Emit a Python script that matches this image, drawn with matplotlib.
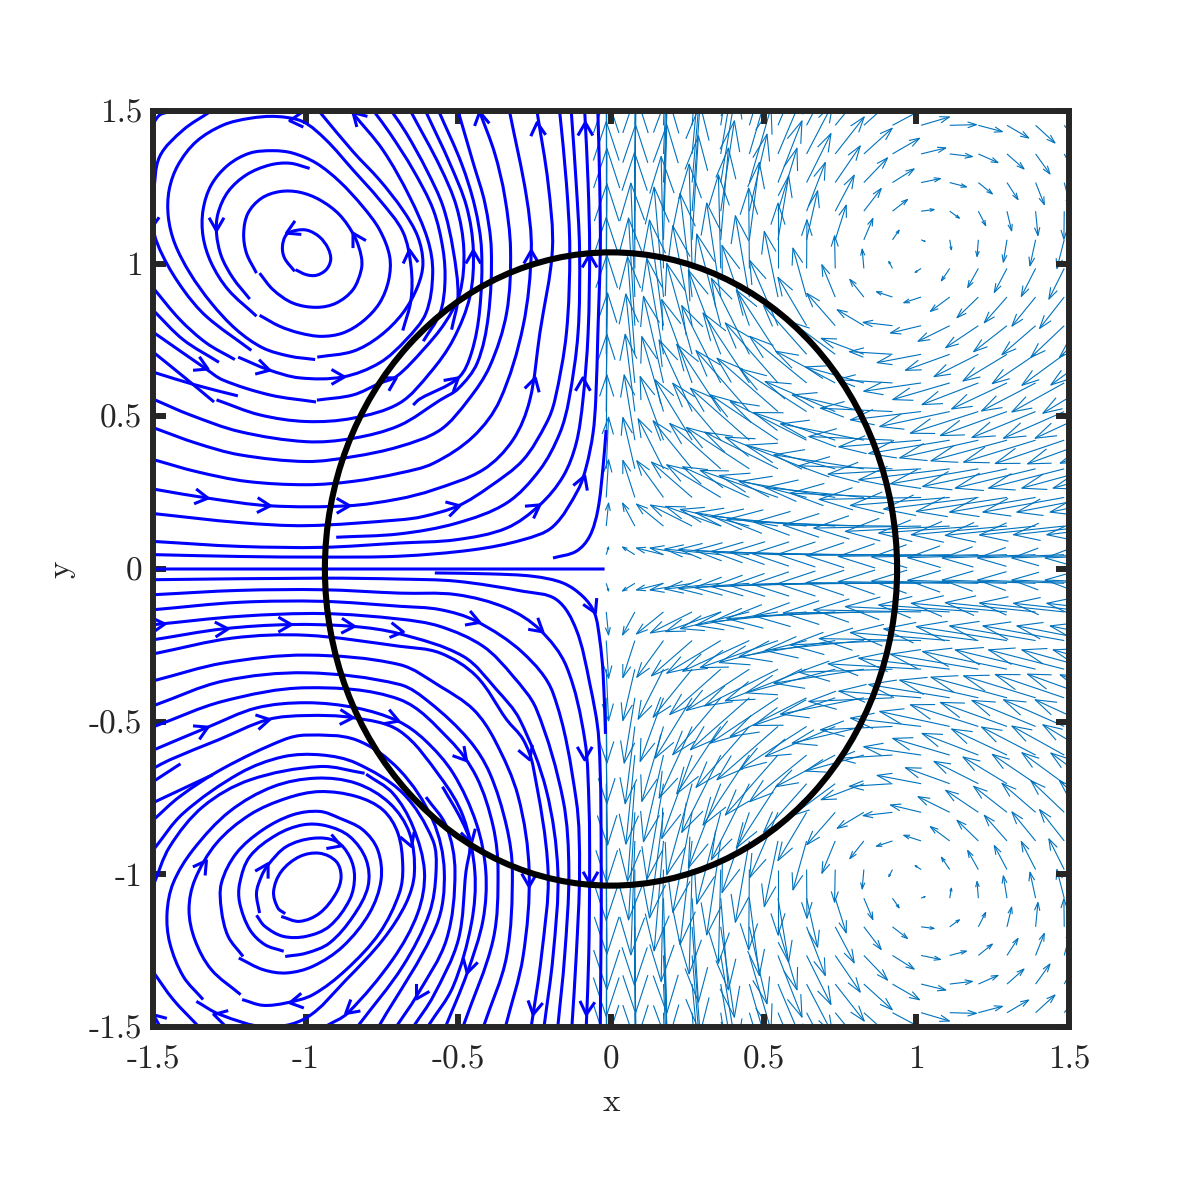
import numpy as np
import matplotlib
matplotlib.use("Agg")
import matplotlib.pyplot as plt
from matplotlib.collections import LineCollection
from matplotlib.patches import Ellipse, PathPatch
from matplotlib.path import Path

n = float("nan")

# Streamlines on the left half (x, y in axis units)
t1_x = [-1.033, -0.998, -0.965, -0.933, -0.918, -0.927, -0.954, -0.993, -1.031, -1.063, -1.076, -1.069, -1.036]
t1_y = [0.980, 0.964, 0.962, 0.980, 1.013, 1.051, 1.087, 1.109, 1.109, 1.095, 1.056, 1.018, 0.975]
t2_x = [-1.151, -1.107, -1.042, -0.965, -0.900, -0.845, -0.818, -0.818, -0.840, -0.889, -0.954, -1.020, -1.085, -1.145, -1.189, -1.203, -1.194, -1.161]
t2_y = [0.969, 0.915, 0.871, 0.857, 0.871, 0.915, 0.980, 1.024, 1.089, 1.160, 1.209, 1.234, 1.236, 1.214, 1.165, 1.100, 1.035, 0.969]
t3_x = [-0.987, -1.052, -1.118, -1.194, -1.254, -1.287, -1.292, -1.276, -1.238, -1.183]
t3_y = [1.312, 1.329, 1.323, 1.291, 1.236, 1.165, 1.100, 1.024, 0.953, 0.884]
t4_x = [-1.151, -1.085, -1.020, -0.949, -0.878, -0.813, -0.758, -0.728, -0.725, -0.758, -0.813, -0.889, -0.965, -1.042, -1.107, -1.183, -1.254, -1.309, -1.336, -1.336, -1.309, -1.254, -1.161]
t4_y = [0.831, 0.795, 0.773, 0.762, 0.773, 0.811, 0.871, 0.947, 1.024, 1.111, 1.187, 1.269, 1.329, 1.362, 1.370, 1.362, 1.323, 1.258, 1.176, 1.089, 1.002, 0.915, 0.828]
t5_x = [-0.682, -0.655, -0.655, -0.682, -0.758, -0.845, -0.933, -1.009, -1.096, -1.183, -1.270, -1.358, -1.418, -1.447, -1.450, -1.429, -1.379, -1.309, -1.227, -1.140, -1.052, -0.969]
t5_y = [0.781, 0.882, 0.991, 1.105, 1.209, 1.307, 1.405, 1.465, 1.482, 1.476, 1.454, 1.400, 1.323, 1.242, 1.155, 1.067, 0.969, 0.871, 0.784, 0.724, 0.697, 0.686]
t6_x = [-0.962, -0.845, -0.758, -0.682, -0.633, -0.616, -0.633, -0.682, -0.758, -0.845, -0.954]
t6_y = [0.694, 0.713, 0.762, 0.838, 0.926, 1.002, 1.089, 1.176, 1.274, 1.367, 1.497]
t7_x = [-1.221, -1.123, -1.020, -0.878, -0.758, -0.671, -0.606, -0.584, -0.600, -0.660, -0.747, -0.845]
t7_y = [0.694, 0.653, 0.626, 0.629, 0.675, 0.751, 0.838, 0.969, 1.078, 1.220, 1.372, 1.492]
t8_x = [-0.615, -0.560, -0.544, -0.550, -0.582, -0.648, -0.724, -0.775]
t8_y = [0.746, 0.838, 0.936, 1.045, 1.176, 1.307, 1.427, 1.497]
t9_x = [-0.522, -0.501, -0.517, -0.550, -0.604, -0.670, -0.717]
t9_y = [0.784, 0.893, 1.045, 1.187, 1.307, 1.427, 1.497]
t10_x = [-0.963, -0.845, -0.758, -0.702, -0.615, -0.544, -0.495, -0.482, -0.506, -0.560, -0.655]
t10_y = [0.553, 0.570, 0.608, 0.631, 0.718, 0.806, 0.904, 1.045, 1.187, 1.318, 1.497]
t11_x = [-1.292, -1.151, -0.998, -0.845, -0.693, -0.593, -0.517, -0.462, -0.451, -0.473, -0.528, -0.606]
t11_y = [0.554, 0.505, 0.483, 0.494, 0.543, 0.642, 0.751, 0.893, 1.045, 1.187, 1.329, 1.497]
t12_x = [-0.648, -0.626, -0.500, -0.457, -0.430, -0.424, -0.446, -0.490, -0.563]
t12_y = [0.537, 0.557, 0.626, 0.708, 0.849, 1.045, 1.187, 1.329, 1.497]
t13_x = [-1.494, -1.379, -1.216, -0.998, -0.845, -0.693, -0.560, -0.500, -0.438, -0.402, -0.392, -0.413, -0.451, -0.500]
t13_y = [0.554, 0.505, 0.450, 0.417, 0.428, 0.470, 0.553, 0.591, 0.675, 0.827, 1.045, 1.198, 1.329, 1.497]
t14_x = [-1.494, -1.358, -1.216, -0.998, -0.845, -0.693, -0.560, -0.468, -0.397, -0.342, -0.329, -0.348, -0.381, -0.430]
t14_y = [0.461, 0.412, 0.374, 0.352, 0.368, 0.401, 0.455, 0.553, 0.664, 0.838, 1.045, 1.220, 1.362, 1.497]
t15_x = [-1.494, -1.358, -1.194, -0.998, -0.845, -0.693, -0.582, -0.451, -0.364, -0.288, -0.261, -0.277, -0.332]
t15_y = [0.357, 0.319, 0.287, 0.276, 0.287, 0.314, 0.346, 0.434, 0.553, 0.795, 1.045, 1.220, 1.497]
t16_x = [-1.494, -1.320, -1.118, -0.862, -0.698, -0.582, -0.419, -0.321, -0.266, -0.233, -0.192, -0.206, -0.242]
t16_y = [0.261, 0.232, 0.207, 0.207, 0.229, 0.259, 0.325, 0.423, 0.553, 0.773, 1.045, 1.263, 1.497]
t17_x = [-1.494, -1.216, -0.998, -0.693, -0.615, -0.500, -0.397, -0.288, -0.212, -0.184, -0.146, -0.135, -0.146, -0.168]
t17_y = [0.181, 0.152, 0.142, 0.161, 0.172, 0.207, 0.270, 0.357, 0.477, 0.553, 0.773, 1.045, 1.263, 1.497]
t18_x = [-0.900, -0.693, -0.506, -0.342, -0.233, -0.168, -0.138, -0.108, -0.103, -0.114, -0.130]
t18_y = [0.104, 0.115, 0.150, 0.216, 0.325, 0.444, 0.553, 0.773, 1.045, 1.263, 1.497]
t19_x = [-1.494, -1.216, -0.943, -0.693, -0.506, -0.342, -0.233, -0.157, -0.114, -0.092, -0.075, -0.070, -0.075, -0.086]
t19_y = [0.090, 0.074, 0.071, 0.085, 0.096, 0.134, 0.210, 0.303, 0.412, 0.553, 0.773, 1.045, 1.263, 1.497]
t20_x = [-1.494, -1.216, -0.943, -0.693, -0.451, -0.288, -0.190, -0.108, -0.081, -0.059, -0.050, -0.043, -0.035, -0.037, -0.043]
t20_y = [0.047, 0.041, 0.039, 0.042, 0.063, 0.096, 0.139, 0.259, 0.335, 0.444, 0.553, 0.773, 1.045, 1.263, 1.497]
t21_x = [-0.190, -0.114, -0.070, -0.043, -0.026, -0.016]
t21_y = [0.036, 0.058, 0.107, 0.194, 0.335, 0.455]
b_x = [-1.480, -1.499, -1.467, -1.401, -1.325, -1.178]
b_y = [1.152, 1.116, 1.024, 0.915, 0.827, 0.716]
c_x = [-1.499, -1.412, -1.325, -1.232]
c_y = [0.920, 0.817, 0.740, 0.686]
d_x = [-1.499, -1.401, -1.284]
d_y = [0.847, 0.751, 0.677]
e_x = [-1.500, -1.330, -1.271, -1.117, -0.966]
e_y = [0.776, 0.658, 0.619, 0.570, 0.547]
f_x = [-1.500, -1.395, -1.300]
f_y = [0.711, 0.626, 0.547]
g_x = [-1.500, -1.362, -1.222]
g_y = [0.645, 0.603, 0.567]
edge1_x = [-1.499, -1.478, -1.401, -1.314]
edge1_y = [1.231, 1.351, 1.438, 1.497]
edge2_x = [-1.499, -1.478, -1.450]
edge2_y = [1.460, 1.487, 1.497]
mid_x = [-1.500, -0.021]
mid_y = [0.000, 0.000]

s0_x = [-0.577, -0.397, -0.255, -0.157, -0.092, -0.054, -0.037, -0.026, -0.018]
s0_y = [-0.013, -0.016, -0.024, -0.046, -0.090, -0.144, -0.231, -0.340, -0.540]
l1_x = [-1.494, -0.943, -0.693, -0.506, -0.288, -0.179, -0.114, -0.070, -0.040, -0.032, -0.035]
l1_y = [-0.035, -0.030, -0.033, -0.040, -0.073, -0.100, -0.198, -0.373, -0.558, -0.991, -1.497]
l2_x = [-1.494, -1.216, -0.943, -0.693, -0.506, -0.342, -0.233, -0.146, -0.086, -0.072, -0.070, -0.073, -0.081]
l2_y = [-0.084, -0.070, -0.068, -0.079, -0.084, -0.128, -0.199, -0.319, -0.558, -0.778, -0.991, -1.269, -1.497]
l3_x = [-1.494, -1.216, -0.943, -0.693, -0.560, -0.441, -0.288, -0.190, -0.114, -0.103, -0.114, -0.128]
l3_y = [-0.133, -0.109, -0.106, -0.122, -0.133, -0.171, -0.275, -0.406, -0.756, -0.991, -1.269, -1.497]
l4_x = [-1.494, -1.216, -0.943, -0.693, -0.560, -0.419, -0.321, -0.244, -0.157, -0.138, -0.152, -0.174]
l4_y = [-0.182, -0.155, -0.146, -0.164, -0.188, -0.253, -0.351, -0.460, -0.756, -0.991, -1.269, -1.497]
l5_x = [-1.494, -1.270, -1.052, -0.845, -0.693, -0.484, -0.375, -0.299, -0.212, -0.174, -0.190, -0.219]
l5_y = [-0.231, -0.196, -0.182, -0.188, -0.212, -0.286, -0.395, -0.493, -0.724, -0.991, -1.269, -1.497]
l6_x = [-1.494, -1.238, -0.998, -0.693, -0.560, -0.441, -0.342, -0.288, -0.255, -0.206, -0.228, -0.261]
l6_y = [-0.277, -0.226, -0.217, -0.253, -0.275, -0.351, -0.493, -0.558, -0.647, -0.991, -1.269, -1.497]
l7_x = [-1.494, -1.270, -0.998, -0.693, -0.560, -0.451, -0.381, -0.304, -0.268, -0.288, -0.345]
l7_y = [-0.365, -0.308, -0.282, -0.313, -0.384, -0.460, -0.560, -0.745, -0.991, -1.269, -1.497]
l8_x = [-1.494, -1.270, -0.998, -0.693, -0.593, -0.465, -0.397, -0.342, -0.323, -0.342, -0.417]
l8_y = [-0.446, -0.367, -0.340, -0.378, -0.438, -0.560, -0.669, -0.843, -0.991, -1.269, -1.497]
l9_x = [-1.494, -1.270, -0.998, -0.693, -0.528, -0.441, -0.386, -0.370, -0.386, -0.484]
l9_y = [-0.515, -0.433, -0.389, -0.427, -0.560, -0.680, -0.843, -0.991, -1.214, -1.497]
l10_x = [-1.494, -1.325, -1.161, -0.998, -0.834, -0.698, -0.610, -0.517, -0.441, -0.410, -0.419, -0.471, -0.541]
l10_y = [-0.591, -0.520, -0.455, -0.438, -0.455, -0.498, -0.560, -0.669, -0.833, -0.991, -1.149, -1.323, -1.497]
l11_x = [-1.499, -1.445, -1.287, -1.123, -0.998, -0.845, -0.693, -0.560, -0.484, -0.446, -0.457, -0.517, -0.599]
l11_y = [-0.653, -0.625, -0.560, -0.493, -0.480, -0.487, -0.530, -0.680, -0.811, -0.991, -1.160, -1.367, -1.497]
l12_x = [-1.499, -1.412, -1.270, -1.074, -0.998, -0.834, -0.693, -0.584, -0.546, -0.573, -0.760]
l12_y = [-0.822, -0.745, -0.653, -0.560, -0.544, -0.560, -0.658, -0.822, -0.991, -1.170, -1.497]
s1_x = [-1.499, -1.410]
s1_y = [-0.696, -0.638]
s2_x = [-1.499, -1.305]
s2_y = [-0.765, -0.674]
s3_x = [-0.552, -0.490, -0.462, -0.475, -0.500, -0.582, -0.646]
s3_y = [-0.713, -0.822, -0.898, -0.991, -1.214, -1.399, -1.497]
s4_x = [-0.606, -0.539, -0.511, -0.539, -0.637, -0.702]
s4_y = [-0.747, -0.843, -0.991, -1.214, -1.399, -1.497]
v1_x = [-1.080, -1.020, -0.954, -0.900, -0.884, -0.900, -0.954, -1.020, -1.080, -1.105, -1.091, -1.067]
v1_y = [-1.138, -1.154, -1.127, -1.061, -1.007, -0.958, -0.931, -0.942, -0.991, -1.056, -1.110, -1.129]
v2_x = [-1.151, -1.161, -1.145, -1.123, -1.063, -0.976, -0.900, -0.856, -0.840, -0.856, -0.922, -0.998, -1.074, -1.134, -1.161]
v2_y = [-1.127, -1.061, -1.007, -0.969, -0.909, -0.882, -0.892, -0.942, -1.007, -1.083, -1.170, -1.203, -1.203, -1.170, -1.134]
v3_x = [-1.067, -0.998, -0.922, -0.845, -0.796, -0.802, -0.856, -0.933, -1.009, -1.096, -1.183, -1.216, -1.216, -1.183, -1.134, -1.072]
v3_y = [-1.269, -1.258, -1.225, -1.138, -1.040, -0.952, -0.876, -0.841, -0.838, -0.871, -0.942, -1.029, -1.094, -1.181, -1.230, -1.252]
v4_x = [-1.219, -1.140, -1.063, -0.976, -0.878, -0.791, -0.753, -0.764, -0.813, -0.889, -0.954, -1.042, -1.140, -1.227, -1.276, -1.276, -1.254, -1.205]
v4_y = [-1.274, -1.312, -1.323, -1.301, -1.236, -1.127, -1.018, -0.920, -0.854, -0.816, -0.794, -0.805, -0.854, -0.931, -1.029, -1.116, -1.203, -1.269]
v5_x = [-1.208, -1.140, -1.063, -0.976, -0.867, -0.758, -0.693, -0.682, -0.698, -0.747, -0.834, -0.954, -1.063, -1.183, -1.292, -1.363, -1.382, -1.363, -1.309, -1.213]
v5_y = [-1.410, -1.429, -1.421, -1.394, -1.312, -1.192, -1.061, -0.974, -0.865, -0.789, -0.745, -0.729, -0.751, -0.805, -0.898, -1.018, -1.116, -1.214, -1.312, -1.394]
v6_x = [-0.802, -0.715, -0.649, -0.611, -0.633, -0.715, -0.862, -0.933]
v6_y = [-0.672, -0.734, -0.843, -0.991, -1.127, -1.279, -1.454, -1.497]
v7_x = [-1.499, -1.401, -1.216, -1.074, -0.949, -0.834, -0.682, -0.584, -0.573, -0.595, -0.682, -0.829]
v7_y = [-0.920, -0.800, -0.669, -0.615, -0.609, -0.636, -0.734, -0.887, -0.991, -1.127, -1.301, -1.497]
v8_x = [-1.336, -1.401, -1.445, -1.454, -1.434, -1.369, -1.249, -1.107, -0.965, -0.834, -0.725, -0.660, -0.644, -0.671, -0.747, -0.867, -0.998, -1.129, -1.281, -1.358]
v8_y = [-1.410, -1.334, -1.225, -1.127, -1.029, -0.920, -0.794, -0.713, -0.685, -0.702, -0.767, -0.865, -0.996, -1.094, -1.214, -1.345, -1.470, -1.500, -1.459, -1.416]
v9_x = [-1.499, -1.445, -1.336, -1.183, -0.954, -0.807]
v9_y = [-1.036, -0.909, -0.778, -0.691, -0.647, -0.669]
edge3_x = [-1.499, -1.434, -1.352]
edge3_y = [-1.320, -1.410, -1.497]
edge4_x = [-1.499, -1.478]
edge4_y = [-1.459, -1.497]

# Arrow heads on the streamlines: tip position and travel direction in degrees
arrow_x = [-1.063, -1.292, -0.845, -0.660, -1.052, -0.845, -1.320, -1.118, -0.873, -0.703,
           -0.451, -0.261, -0.070, -0.242, -0.084, -0.430, -0.500, -0.248, -0.092,
           -0.086, -0.233, -0.495, -1.320, -1.116, -0.856,
           -1.461, -1.254, -1.047, -0.840, -0.680, -0.430, -0.223, -0.051,
           -1.320, -1.118, -0.845, -0.695, -0.473, -0.266, -0.086, -0.653, -0.457,
           -0.268, -0.067, -0.471, -0.637, -0.255, -0.081,
           -1.123, -0.884, -1.325, -1.052, -1.301, -0.869, -1.502]
arrow_y = [1.100, 1.108, 1.100, 1.045, 1.468, 1.495, 0.655, 0.651, 0.629, 0.626,
           1.043, 1.043, 1.030, 1.462, 1.462, 1.497, 0.626, 0.626, 0.626,
           0.305, 0.210, 0.207, 0.232, 0.207, 0.207,
           -0.180, -0.196, -0.182, -0.188, -0.206, -0.175, -0.206, -0.144,
           -0.518, -0.493, -0.487, -0.498, -0.628, -0.625, -0.625, -0.909, -0.898,
           -1.040, -1.034, -1.323, -1.408, -1.459, -1.459,
           -0.965, -0.907, -0.955, -1.421, -1.459, -1.456, -1.459]
arrow_dir = [205, 270, 120, 95, 185, 135, -25, -15, 0, 30,
             90, 90, 90, 95, 90, 100, 40, 75, 90,
             70, 35, 15, -8, -3, 0,
             5, 3, 0, -3, -8, -20, -40, -65,
             25, 12, -3, -20, -50, -70, -90, -70, -75,
             -90, -90, -105, -120, -100, -95,
             60, -20, 55, 190, 165, 220, 135]

# Vector field on the right half, upper rows from y = 1.45 down to y = 0.05,
# columns from x = -0.02 to x = 1.67; lower half repeats them with v reversed
u_r15 = [0, 5, 12, 25, 45, 75, 80, 78, 90, 95, 90, 85, 80, 72, 65, 58, 52, n, n]
v_r15 = [330, 330, 330, 320, 290, 250, 190, 150, 110, 85, 48, 25, 2, -19, -38, -53, -66, n, n]
u_r14 = [0, 5, 15, 30, 50, 70, 80, 78, 87, 85, 81, 74, 68, 59, 51, 43, 37, n, n]
v_r14 = [340, 340, 335, 320, 295, 240, 190, 150, 111, 77, 47, 18, -8, -26, -45, -60, -70, n, n]
u_r13 = [0, 4, 15, 28, 48, 65, 72, 73, 75, 71, 65, 58, 50, 42, 33, 26, 20, n, n]
v_r13 = [345, 345, 345, 325, 290, 225, 185, 147, 110, 74, 41, 12, -13, -34, -51, -66, -75, n, n]
u_r12 = [0, 3, 12, 24, 41, 53, 57, 56, 57, 52, 45, 39, 29, 22, 14, 7, -1, n, n]
v_r12 = [350, 350, 350, 320, 271, 231, 189, 146, 108, 68, 35, 5, -21, -43, -59, -73, -84, n, n]
u_r11 = [0, 2, 10, 19, 23, 30, 32, 33, 33, 27, 20, 12, 5, -4, -11, -17, -22, n, n]
v_r11 = [355, 345, 345, 312, 275, 232, 192, 147, 104, 64, 29, -5, -30, -50, -67, -78, -86, n, n]
u_r10 = [2, -1, -7, -9, -7, -2, 0, 1, -2, -5, -11, -18, -25, -32, -38, -43, -46, n, n]
v_r10 = [360, 348, 336, 313, 281, 241, 196, 146, 98, 58, 21, -12, -37, -57, -72, -84, -92, n, n]
u_r9 = [2, -12, -28, -36, -42, -42, -41, -41, -40, -42, -48, -52, -58, -64, -68, -71, -74, n, n]
v_r9 = [340, 342, 330, 311, 282, 244, 197, 147, 97, 53, 16, -17, -43, -62, -77, -87, -94, n, n]
u_r8 = [0, -19, -42, -58, -72, -82, -85, -86, -85, -80, -88, -92, -95, -98, -100, -101, -100, -100, n]
v_r8 = [325, 323, 317, 300, 275, 241, 196, 145, 97, 48, 10, -22, -47, -66, -78, -87, -95, -95, n]
u_r7 = [2, -22, -50, -76, -97, -114, -125, -129, -130, -128, -129, -132, -133, -133, -132, -130, -127, -126, n]
v_r7 = [298, 293, 288, 273, 253, 228, 193, 146, 96, 48, 8, -25, -48, -67, -80, -88, -93, -92, n]
u_r6 = [4, -27, -60, -91, -117, -139, -158, -171, -178, -175, -166, -172, -171, -169, -166, -162, -157, -150, n]
v_r6 = [270, 267, 260, 250, 232, 210, 180, 140, 95, 48, 10, -25, -50, -65, -78, -84, -87, -91, n]
u_r5 = [2, -29, -65, -99, -132, -160, -183, -199, -210, -215, -216, -212, -210, -204, -200, -191, -182, -173, n]
v_r5 = [232, 232, 225, 215, 202, 183, 160, 128, 90, 50, 10, -25, -45, -65, -72, -78, -80, -80, n]
u_r4 = [2, -32, -70, -111, -144, -177, -203, -229, -245, -250, -251, -247, -243, -236, -228, -216, -207, -196, -184]
v_r4 = [196, 196, 191, 181, 171, 156, 136, 116, 83, 49, 11, -20, -40, -53, -62, -66, -70, -71, -69]
u_r3 = [7, -36, -76, -117, -153, -189, -220, -244, -268, -270, -281, -279, -273, -264, -253, -241, -227, -213, -205]
v_r3 = [155, 154, 150, 144, 136, 124, 110, 95, 71, 42, 9, -16, -33, -45, -53, -58, -58, -58, -58]
u_r2 = [7, -36, -80, -122, -162, -200, -233, -262, -288, -297, -307, -306, -298, -284, -272, -258, -244, -228, -214]
v_r2 = [113, 111, 110, 106, 98, 92, 81, 66, 48, 30, 13, -6, -24, -35, -42, -44, -44, -44, -44]
u_r1 = [7, -37, -81, -125, -165, -207, -247, -285, -325, -330, -328, -322, -313, -299, -287, -271, -254, -238, -224]
v_r1 = [69, 69, 66, 63, 59, 50, 40, 30, 20, 12, 3, -6, -16, -21, -26, -28, -27, -26, -26]
u_r0 = [7, -37, -81, -126, -168, -212, -250, -285, -315, -335, -345, -345, -335, -320, -298, -280, -260, -243, -229]
v_r0 = [23, 23, 20, 20, 17, 16, 13, 10, 7, 3, 1, -2, -5, -7, -9, -10, -10, -10, -10]

tick_vals = [-1.5, -1, -0.5, 0, 0.5, 1, 1.5]
tick_labels = ["-1.5", "-1", "-0.5", "0", "0.5", "1", "1.5"]

streamlines = [
    (t1_x, t1_y), (t2_x, t2_y), (t3_x, t3_y), (t4_x, t4_y), (t5_x, t5_y), (t6_x, t6_y), (t7_x, t7_y),
    (t8_x, t8_y), (t9_x, t9_y), (t10_x, t10_y), (t11_x, t11_y), (t12_x, t12_y), (t13_x, t13_y),
    (t14_x, t14_y), (t15_x, t15_y), (t16_x, t16_y), (t17_x, t17_y), (t18_x, t18_y), (t19_x, t19_y),
    (t20_x, t20_y), (t21_x, t21_y), (b_x, b_y), (c_x, c_y), (d_x, d_y), (e_x, e_y), (f_x, f_y), (g_x, g_y),
    (edge1_x, edge1_y), (edge2_x, edge2_y), (mid_x, mid_y), (s0_x, s0_y), (l1_x, l1_y), (l2_x, l2_y),
    (l3_x, l3_y), (l4_x, l4_y), (l5_x, l5_y), (l6_x, l6_y), (l7_x, l7_y), (l8_x, l8_y), (l9_x, l9_y),
    (l10_x, l10_y), (l11_x, l11_y), (l12_x, l12_y), (s1_x, s1_y), (s2_x, s2_y), (s3_x, s3_y), (s4_x, s4_y),
    (v1_x, v1_y), (v2_x, v2_y), (v3_x, v3_y), (v4_x, v4_y), (v5_x, v5_y), (v6_x, v6_y), (v7_x, v7_y),
    (v8_x, v8_y), (v9_x, v9_y), (edge3_x, edge3_y), (edge4_x, edge4_y),
]


def curve_path(xs, ys):
    # bezier path through the read points, so the pen turns smoothly at each one
    pts = np.column_stack([xs, ys])
    tang = np.zeros_like(pts)
    tang[1:-1] = pts[2:] - pts[:-2]
    tang[0] = pts[1] - pts[0]
    tang[-1] = pts[-1] - pts[-2]
    tang /= np.linalg.norm(tang, axis=1, keepdims=True)
    verts = [pts[0]]
    codes = [Path.MOVETO]
    for i in range(len(pts) - 1):
        d = np.linalg.norm(pts[i + 1] - pts[i]) / 3
        verts += [pts[i] + tang[i] * d, pts[i + 1] - tang[i + 1] * d, pts[i + 1]]
        codes += [Path.CURVE4] * 3
    return Path(verts, codes)


def field_segments():
    u_up = np.array([u_r15, u_r14, u_r13, u_r12, u_r11, u_r10, u_r9, u_r8,
                     u_r7, u_r6, u_r5, u_r4, u_r3, u_r2, u_r1, u_r0], dtype=float)
    v_up = np.array([v_r15, v_r14, v_r13, v_r12, v_r11, v_r10, v_r9, v_r8,
                     v_r7, v_r6, v_r5, v_r4, v_r3, v_r2, v_r1, v_r0], dtype=float)
    xs = -1 / 64 + np.arange(u_up.shape[1]) * 3 / 32
    ys = (2 * np.arange(15, -1, -1) + 1) * 3 / 64
    segs = []
    # values were read in zoomed pixels, 916 of them make one axis unit
    for sign in (1, -1):
        for i, y0 in enumerate(ys):
            for j, x0 in enumerate(xs):
                du = u_up[i, j] / 916
                dv = sign * v_up[i, j] / 916
                if np.isnan(du):
                    continue
                y = sign * y0
                tip = (x0 + du, y + dv)
                # open head the way matlab quiver draws it
                b1 = (tip[0] - 0.33 * (du + 0.33 * dv), tip[1] - 0.33 * (dv - 0.33 * du))
                b2 = (tip[0] - 0.33 * (du - 0.33 * dv), tip[1] - 0.33 * (dv + 0.33 * du))
                segs.append([(x0, y), tip])
                segs.append([b1, tip, b2])
    return segs


def main():
    plt.rcParams["font.family"] = "cmr10"
    plt.rcParams["axes.unicode_minus"] = False
    plt.rcParams["axes.formatter.use_mathtext"] = True

    fig = plt.figure(figsize=(11.81, 11.81), dpi=100)
    ax = fig.add_axes([153 / 1181, 154 / 1181, 916 / 1181, 916 / 1181])

    ax.add_collection(LineCollection(field_segments(), colors="#0072BD", linewidths=0.8, zorder=1))

    for xs, ys in streamlines:
        ax.add_patch(PathPatch(curve_path(xs, ys), fill=False, edgecolor="#0000FF", lw=2.2,
                               capstyle="butt", zorder=2))

    barb = 0.049
    for x, y, d in zip(arrow_x, arrow_y, arrow_dir):
        a1 = np.radians(d + 150)
        a2 = np.radians(d - 150)
        ax.plot([x + barb * np.cos(a1), x, x + barb * np.cos(a2)],
                [y + barb * np.sin(a1), y, y + barb * np.sin(a2)],
                color="#0000FF", lw=2.2, solid_capstyle="butt", zorder=2)

    ax.add_patch(Ellipse((0, 0), 2 * 0.937, 2 * 1.037, fill=False, edgecolor="black", lw=4.4, zorder=3))

    ax.set_xlim(-1.5, 1.5)
    ax.set_ylim(-1.5, 1.5)
    ax.set_xticks(tick_vals)
    ax.set_xticklabels(tick_labels)
    ax.set_yticks(tick_vals)
    ax.set_yticklabels(tick_labels, va="center_baseline")
    ax.tick_params(direction="in", length=9.5, width=4.3, top=True, right=True, colors="#262626",
                   labelsize=24, zorder=4)
    ax.tick_params(axis="x", pad=13)
    ax.tick_params(axis="y", pad=7.5)
    ax.set_xlabel("x", fontsize=24, color="#262626", labelpad=10)
    ax.set_ylabel("y", fontsize=24, color="#262626", labelpad=10)
    for spine in ax.spines.values():
        spine.set_linewidth(4.3)
        spine.set_color("#262626")
        spine.set_zorder(2.5)

    fig.savefig("out.png", dpi=100)


if __name__ == "__main__":
    main()
